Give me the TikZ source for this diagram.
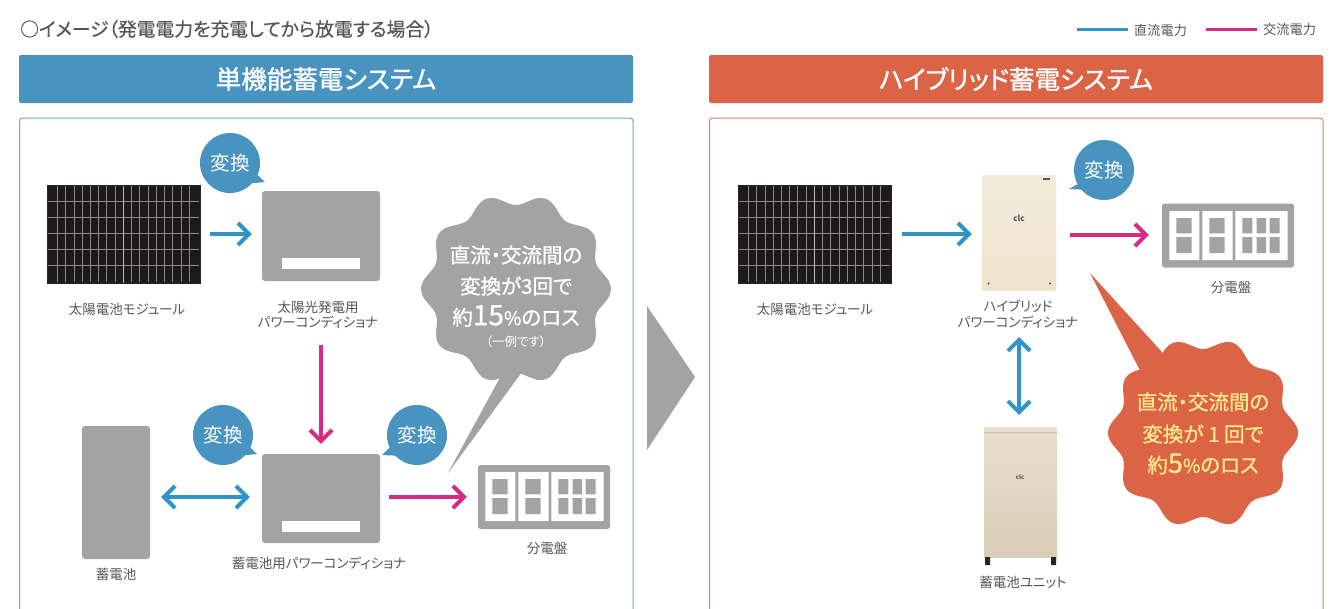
\documentclass[tikz,border=0pt]{standalone}
\usepackage{fontspec}
\setmainfont[RawFeature={+palt}]{Noto Sans CJK JP}
\usetikzlibrary{arrows.meta,calc}
\definecolor{blueA}{HTML}{4893C0}
\definecolor{lineB}{HTML}{2F95C9}
\definecolor{pinkA}{HTML}{D62A85}
\definecolor{orangeA}{HTML}{DC6446}
\definecolor{grayA}{HTML}{A3A3A3}
\definecolor{txtA}{HTML}{555555}
\definecolor{yellowA}{HTML}{FDEB8C}
\definecolor{borderL}{HTML}{6FA9CC}
\definecolor{borderR}{HTML}{E27C64}
\definecolor{cellD}{HTML}{1D1A1C}
\definecolor{gridL}{HTML}{8F8B8B}
\definecolor{hybTop}{HTML}{F2EBDC}
\definecolor{hybBot}{HTML}{EFE3CC}
\definecolor{unitTop}{HTML}{E9DFCC}
\definecolor{unitBot}{HTML}{D9CDB7}
\tikzset{
  x=1pt,y=-1pt,
  caption/.style={font=\fontsize{13.5}{15}\selectfont,text=txtA,inner sep=0pt},
  header/.style={fill=#1,rounded corners=2pt,minimum width=614pt,minimum height=48pt,inner sep=0pt,text=white,font=\fontsize{25.5}{28}\selectfont\addfontfeatures{FakeBold=1.2}},
  frameL/.style={draw=#1,line width=1pt,rounded corners=3pt},
  pcsbox/.style={fill=grayA,rounded corners=3pt,minimum width=118pt,minimum height=90pt,inner sep=0pt},
  dcline/.style={draw=lineB,line width=3.5pt,-{Straight Barb[length=11pt,width=22pt,line width=4pt]}},
  dcboth/.style={draw=lineB,line width=3.5pt,{Straight Barb[length=11pt,width=22pt,line width=4pt]}-{Straight Barb[length=11pt,width=22pt,line width=4pt]}},
  acline/.style={draw=pinkA,line width=3.5pt,-{Straight Barb[length=11pt,width=22pt,line width=4pt]}},
  bubtext/.style={circle,fill=blueA,minimum size=60pt,inner sep=0pt,text=white,font=\fontsize{19.5}{21}\selectfont\addfontfeatures{LetterSpace=4}},
  burstline/.style={inner sep=0pt,font=\fontsize{20.5}{22}\selectfont\addfontfeatures{FakeBold=1}},
  panelnode/.style={minimum width=153pt,minimum height=98pt,inner sep=0pt,fill=cellD,draw=black!70!gray,line width=0.6pt},
  boardnode/.style={fill=grayA,rounded corners=2.5pt,minimum width=132pt,minimum height=64pt,inner sep=0pt},
  pics/solar/.style={code={
    \foreach \k in {0,...,16}{\draw[gridL,line width=0.5pt] ({10.3+\k*8.23},1)--({10.3+\k*8.23},97);}
    \foreach \k in {16.7,32.7,48,64,80}{\draw[gridL,line width=0.6pt] (1,\k)--(152,\k);}
    \draw[gridL!60!white,line width=1.2pt] (76.5,0.5)--(76.5,97.5);
  }},
  pics/board/.style={code={
    \fill[white] (7.3,7) rectangle (37.3,56) (40.3,7) rectangle (70.7,56) (73.3,7) rectangle (125.7,56);
    \foreach \a/\b in {14.3/29.7,47.3/62.7,80.3/90.3,94.7/104,107.7/117.7}{
      \fill[grayA] (\a,14) rectangle (\b,29.3) (\a,33) rectangle (\b,49);
    }
  }},
}
\begin{document}
\begin{tikzpicture}
\useasboundingbox (0,0) rectangle (1335,608);
\fill[white] (0,0) rectangle (1335,608);

% title and legend
\node[anchor=west,inner sep=0pt,text=txtA,font=\fontsize{18.8}{21}\selectfont\addfontfeatures{FakeBold=0.4}] (title) at (20,29) {○イメージ（発電電力を充電してから放電する場合）};
\coordinate (lgA) at (1077,29); \coordinate (lgB) at (1128,29);
\coordinate (lgC) at (1206,29); \coordinate (lgD) at (1257,29);
\draw[lineB,line width=3pt] (lgA)--(lgB);
\draw[pinkA,line width=3pt] (lgC)--(lgD);
\node[anchor=west,inner sep=0pt,text=txtA,font=\fontsize{13.2}{15}\selectfont] (lgdc) at (1134,30) {直流電力};
\node[anchor=west,inner sep=0pt,text=txtA,font=\fontsize{13.2}{15}\selectfont] (lgac) at (1263,30) {交流電力};

% headers
\node[header=blueA] (hL) at (326,79) {単機能蓄電システム};
\node[header=orangeA] (hR) at (1016,79) {ハイブリッド蓄電システム};

% frames (run off the bottom of the picture)
\draw[frameL=borderL] (19.5,625)--(19.5,118)--(633,118)--(633,625);
\draw[frameL=borderR] (709.5,625)--(709.5,118)--(1323,118)--(1323,625);

% big arrow
\fill[grayA] (647,306)--(695,377)--(647,450)--cycle;

% LEFT
\node[panelnode] (panelL) at (123.7,234) {};
\pic at (47,185) {solar};
\node[caption] at (127,309) {太陽電池モジュール};
\node[pcsbox] (pcsA) at (321,236) {};
\fill[white] (282,258) rectangle (360,269);
\node[caption] at (318,307) {太陽光発電用};
\node[caption] at (318,322) {パワーコンディショナ};
\node[pcsbox,minimum height=89pt] (pcsB) at (321,498.5) {};
\fill[white] (282,521) rectangle (360,532);
\node[caption] at (319,563) {蓄電池用パワーコンディショナ};
\node[fill=grayA,rounded corners=3pt,minimum width=68pt,minimum height=133pt,inner sep=0pt] (batt) at (116,492.5) {};
\node[caption] at (116,574) {蓄電池};
\node[boardnode] (boardL) at (544,497) {};
\pic at (478,465) {board};
\node[caption] at (547,548) {分電盤};

\draw[dcline,shorten <=9pt,shorten >=10pt] (panelL.east) -- (panelL.east -| pcsA.west);
\coordinate (pA) at ($(pcsA.south)+(0,64)$);
\draw[acline,shorten >=10pt] (pA) -- (pcsB.north);
\coordinate (bE) at (batt.east |- 0,497);
\draw[dcboth,shorten <=11pt,shorten >=12pt] (bE) -- (bE -| pcsB.west);
\coordinate (pE) at (pcsB.east |- 0,497);
\draw[acline,shorten <=9pt,shorten >=11pt] (pE) -- (pE -| boardL.west);

% bubbles
\fill[blueA] (252,170)--(265,182)--(244,184)--cycle;
\node[bubtext] (b1) at (230,163) {変換};
\fill[blueA] (245,442)--(257,454)--(238,456)--cycle;
\node[bubtext] (b2) at (223,435) {変換};
\fill[blueA] (395,442)--(382,455)--(403,456)--cycle;
\node[bubtext] (b3) at (417,435) {変換};

% gray burst
\fill[grayA] (503,372)--(448,473)--(522,372)--cycle;
\fill[grayA] plot[domain=0:357,samples=120,smooth cycle] ({516+(89.5+5.5*cos(10*\x))*cos(\x)},{289+(89.5+5.5*cos(10*\x))*sin(\x)});
\node[burstline,text=white] (gb1) at (516,255) {直流・交流間の};
\node[burstline,text=white] (gb2) at (516,286) {変換が3回で};
\node[burstline,text=white] (gb3) at (516,316) {約{\fontsize{28}{28}\selectfont 15}{\fontsize{19}{20}\selectfont\%}のロス};
\node[inner sep=0pt,text=white,font=\fontsize{12.5}{14}\selectfont] (gb4) at (516,342) {（一例です）};

% RIGHT
\node[panelnode] (panelR) at (814.7,234) {};
\pic at (738,185) {solar};
\node[caption] at (815,309) {太陽電池モジュール};
\shade[top color=hybTop,bottom color=hybBot,rounded corners=2pt] (982,175) rectangle (1056,291);
\node[minimum width=74pt,minimum height=116pt,inner sep=0pt] (hyb) at (1019,233) {};
\node[inner sep=0pt,text=txtA,font=\fontsize{8}{9}\selectfont\bfseries] at (1019,218) {clc};
\fill[txtA] (1043,178) rectangle (1050,180);
\fill[txtA] (988.5,283.5) circle (1.2pt) (1050,283.5) circle (1.2pt);
\node[caption] at (1018,306) {ハイブリッド};
\node[caption] at (1018,322) {パワーコンディショナ};
\node[boardnode] (boardR) at (1228,235.5) {};
\pic at (1162,204) {board};
\node[caption] at (1231,287) {分電盤};
\shade[top color=unitTop,bottom color=unitBot] (984,427) rectangle (1057,557);
\draw[gray!50,line width=0.5pt] (984,432)--(1057,432);
\node[minimum width=73pt,minimum height=130pt,inner sep=0pt] (unit) at (1020.5,492) {};
\node[inner sep=0pt,text=txtA,font=\fontsize{6}{7}\selectfont\bfseries] at (1020,477) {clc};
\fill[black!85] (985,557) rectangle (990,565) (1051,557) rectangle (1056,565);
\node[caption] at (1023,582) {蓄電池ユニット};

\draw[dcline,shorten <=10pt,shorten >=10pt] (panelR.east) -- (panelR.east -| hyb.west);
\coordinate (hE) at (hyb.east |- 0,235);
\draw[acline,shorten <=14pt] (hE) -- ($(hE -| boardR.west)+(-13,0)$);
\coordinate (hS) at (1019,337);
\coordinate (uN) at (1019,415);
\draw[dcboth] (hS) -- (uN);

\fill[blueA] (1085,180)--(1069,189)--(1090,190)--cycle;
\node[bubtext] (b4) at (1104,170) {変換};

% orange burst
\fill[orangeA] (1150,390)--(1090,273)--(1181,373)--cycle;
\fill[orangeA] plot[domain=0:357,samples=120,smooth cycle] ({1203+(89.5+5.5*cos(10*\x))*cos(\x)},{433+(89.5+5.5*cos(10*\x))*sin(\x)});
\node[burstline,text=yellowA] (ob1) at (1203,402) {直流・交流間の};
\node[burstline,text=yellowA] (ob2) at (1203,434) {変換が 1 回で};
\node[burstline,text=yellowA] (ob3) at (1203,464) {約{\fontsize{27}{27}\selectfont 5}{\fontsize{19}{20}\selectfont\%}のロス};
\end{tikzpicture}
\end{document}
